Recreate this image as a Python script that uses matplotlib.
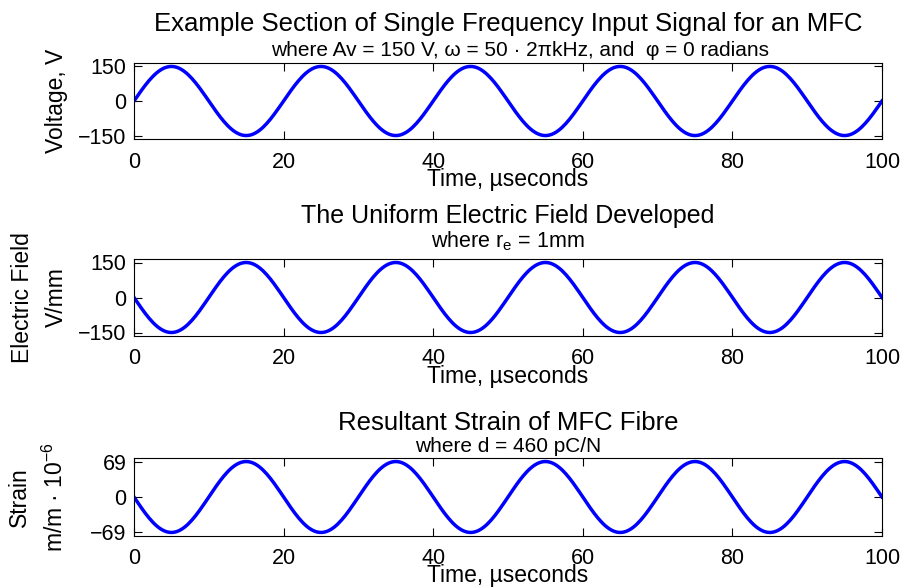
import numpy as np
import matplotlib
matplotlib.use('Agg')
import matplotlib.pyplot as plt

# MFC drive signal parameters
amp_v = 150.0        # Av, volts
freq_khz = 50.0      # w = 50*2*pi kHz
phase = 0.0          # radians
r_e = 1.0            # electrode spacing, mm
d_coef = 460.0       # pC/N

t_us = np.linspace(0, 100, 401)   # time in microseconds
x_ticks = [0, 20, 40, 60, 80, 100]

# signals
voltage = amp_v * np.sin(2 * np.pi * freq_khz * 1e-3 * t_us + phase)
efield = -voltage / r_e                      # V/mm
strain = d_coef * 1e-12 * efield * 1e3 * 1e6  # m/m * 1e-6

v_ticks = [-150, 0, 150]
e_ticks = [-150, 0, 150]
s_ticks = [-69, 0, 69]

plt.rcParams['font.family'] = ['Liberation Sans', 'DejaVu Sans']
plt.rcParams['mathtext.fontset'] = 'custom'
plt.rcParams['mathtext.rm'] = 'Liberation Sans'
plt.rcParams['mathtext.it'] = 'Liberation Sans'
plt.rcParams['mathtext.default'] = 'rm'

W, H = 904, 587
fig = plt.figure(figsize=(W / 100, H / 100), dpi=100)

def px_axes(top, bottom, left=134, right=882):
    return fig.add_axes([left / W, 1 - bottom / H, (right - left) / W, (bottom - top) / H])

def style(ax, y, yt, ylab, xpad=9.0, lpad=-3.0):
    ax.plot(t_us, y, color=(0, 0, 1), lw=2.5)
    ax.set_xlim(0, 100)
    lim = 1.1 * max(abs(v) for v in yt)
    ax.set_ylim(-lim, lim)
    ax.set_xticks(x_ticks)
    ax.set_yticks(yt)
    ax.tick_params(direction='in', length=5.5, width=0.8, top=True, right=True,
                   labelsize=15.5)
    ax.tick_params(axis='x', pad=xpad)
    ax.tick_params(axis='y', pad=5.5)
    for s in ax.spines.values():
        s.set_linewidth(0.8)
    ax.set_xlabel('Time, µseconds', fontsize=16.5, labelpad=lpad)
    ax.set_ylabel(ylab, fontsize=16.5, linespacing=1.6)
    ax.yaxis.set_label_coords(-66 / 748, 0.5)

ax1 = px_axes(63, 139)
style(ax1, voltage, v_ticks, 'Voltage, V')
ax2 = px_axes(259, 336)
style(ax2, efield, e_ticks, 'Electric Field\nV/mm')
ax3 = px_axes(458, 536)
style(ax3, strain, s_ticks, 'Strain\nm/m · 10$^{-6}$', xpad=8.5, lpad=-3.5)

xc = (134 + 882) / 2

def heading(y_px, s, size, x_px=xc):
    fig.text(x_px / W, 1 - y_px / H, s, ha='center', va='baseline', fontsize=size)

heading(31, 'Example Section of Single Frequency Input Signal for an MFC', 18.5)
heading(56, 'where Av = 150 V, ω = 50 · 2πkHz, and  φ = 0 radians', 15, 520)
heading(223, 'The Uniform Electric Field Developed', 18)
heading(247, 'where r$_{e}$ = 1mm', 15.5)
heading(430, 'Resultant Strain of MFC Fibre', 18.5)
heading(452, 'where d = 460 pC/N', 15)

fig.savefig('out.png', dpi=100)
